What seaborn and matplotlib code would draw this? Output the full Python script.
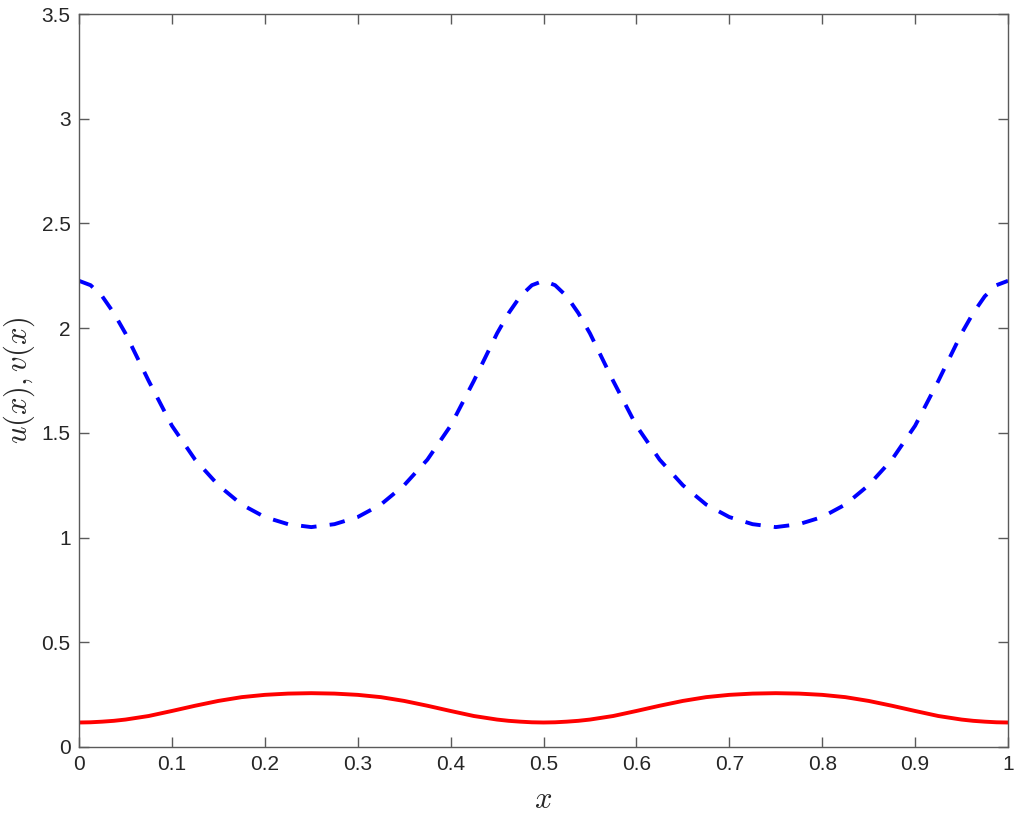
import numpy as np
import pandas as pd
import matplotlib
matplotlib.use("Agg")
import matplotlib.pyplot as plt
import seaborn as sns

# x positions of the read samples (denser near the peaks of v)
x_vals = [0.0000, 0.0125, 0.0250, 0.0375, 0.0500, 0.0750, 0.1000, 0.1250, 0.1500, 0.1750,
          0.2000, 0.2250, 0.2500, 0.2750, 0.3000, 0.3250, 0.3500, 0.3750, 0.4000, 0.4250,
          0.4500, 0.4625, 0.4750, 0.4875, 0.5000, 0.5125, 0.5250, 0.5375, 0.5500, 0.5750,
          0.6000, 0.6250, 0.6500, 0.6750, 0.7000, 0.7250, 0.7500, 0.7750, 0.8000, 0.8250,
          0.8500, 0.8750, 0.9000, 0.9250, 0.9500, 0.9625, 0.9750, 0.9875, 1.0000]

# v(x): blue dashed curve
v_vals = [2.226, 2.205, 2.152, 2.072, 1.975, 1.748, 1.534, 1.372, 1.250, 1.158,
          1.098, 1.064, 1.050, 1.064, 1.098, 1.158, 1.250, 1.372, 1.534, 1.748,
          1.975, 2.072, 2.152, 2.205, 2.226, 2.205, 2.152, 2.072, 1.975, 1.748,
          1.534, 1.372, 1.250, 1.158, 1.098, 1.064, 1.050, 1.064, 1.098, 1.158,
          1.250, 1.372, 1.534, 1.748, 1.975, 2.072, 2.152, 2.205, 2.226]

# u(x): red solid curve
u_vals = [0.117, 0.118, 0.121, 0.125, 0.131, 0.148, 0.172, 0.197, 0.220, 0.238,
          0.249, 0.255, 0.257, 0.255, 0.249, 0.238, 0.220, 0.197, 0.172, 0.148,
          0.131, 0.125, 0.121, 0.118, 0.117, 0.118, 0.121, 0.125, 0.131, 0.148,
          0.172, 0.197, 0.220, 0.238, 0.249, 0.255, 0.257, 0.255, 0.249, 0.238,
          0.220, 0.197, 0.172, 0.148, 0.131, 0.125, 0.121, 0.118, 0.117]

x_ticks = [0, 0.1, 0.2, 0.3, 0.4, 0.5, 0.6, 0.7, 0.8, 0.9, 1]
x_tick_labels = ["0", "0.1", "0.2", "0.3", "0.4", "0.5", "0.6", "0.7", "0.8", "0.9", "1"]
y_ticks = [0, 0.5, 1, 1.5, 2, 2.5, 3, 3.5]
y_tick_labels = ["0", "0.5", "1", "1.5", "2", "2.5", "3", "3.5"]

sns.set_theme(style="white")
plt.rcParams["font.family"] = ["Liberation Sans", "DejaVu Sans"]
plt.rcParams["mathtext.fontset"] = "cm"

df = pd.DataFrame({"x": x_vals, "u": u_vals, "v": v_vals})

fig = plt.figure(figsize=(10.17, 8.19), dpi=100)
ax = fig.add_axes([79 / 1017, (819 - 747) / 819, (1008 - 79) / 1017, (747 - 14) / 819])

sns.lineplot(data=df, x="x", y="v", ax=ax, color="#0000ff", linewidth=2.8,
             linestyle="--", estimator=None)
ax.lines[-1].set_dashes((4.0, 3.4))
ax.lines[-1].set_dash_capstyle("butt")
sns.lineplot(data=df, x="x", y="u", ax=ax, color="#ff0000", linewidth=2.8,
             estimator=None)

ax.set_xlim(0, 1)
ax.set_ylim(0, 3.5)
ax.set_xticks(x_ticks)
ax.set_xticklabels(x_tick_labels)
ax.set_yticks(y_ticks)
ax.set_yticklabels(y_tick_labels)

gray = "#262626"
for s in ax.spines.values():
    s.set_visible(True)
    s.set_color("#5a5a5a")
    s.set_linewidth(1.0)
ax.tick_params(direction="in", length=7, width=1.0, color="#5a5a5a",
               labelsize=15, labelcolor=gray, top=True, right=True,
               bottom=True, left=True, pad=6)

ax.set_xlabel(r"$x$", fontsize=22, color=gray, labelpad=8)
ax.set_ylabel(r"$u(x),v(x)$", fontsize=22, color=gray, labelpad=3)

fig.savefig("out.png", dpi=100)
